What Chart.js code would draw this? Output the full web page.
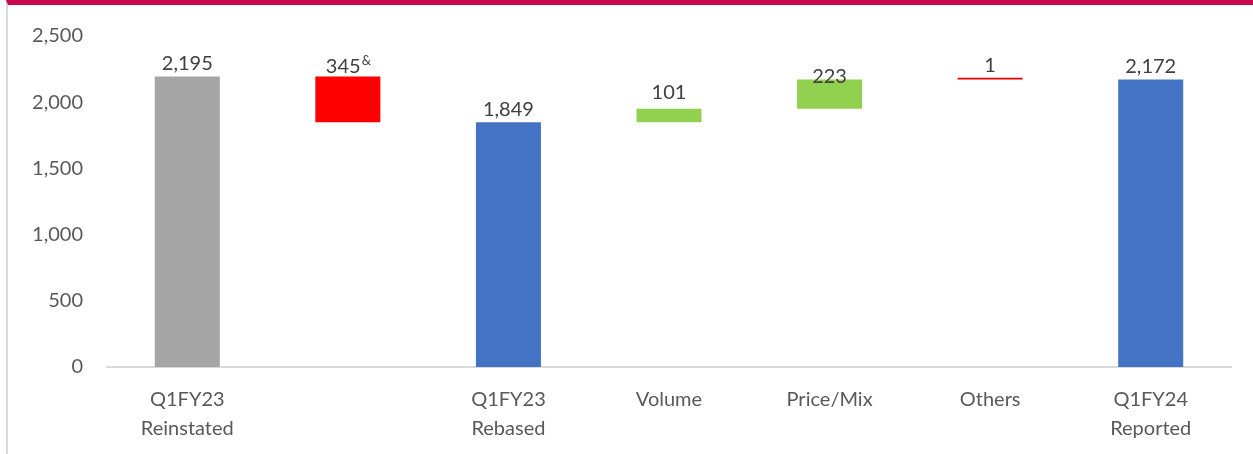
<!DOCTYPE html>
<html>
<head>
<meta charset="utf-8">
<script src="https://cdn.jsdelivr.net/npm/chart.js@4/dist/chart.umd.min.js"></script>
<style>
  body { margin: 0; background: #fff; }
  #wrap { position: relative; width: 1253px; height: 454px; overflow: hidden; }
  #frame {
    position: absolute; left: 6px; top: 0; right: 0; bottom: 0;
    border-top: 5px solid #c8074e; border-left: 2px solid #d9d9d9;
  }
  canvas { position: absolute; left: 0; top: 0; }
</style>
</head>
<body>
<div id="wrap">
  <div id="frame"></div>
  <canvas id="bridge" width="1253" height="454"></canvas>
</div>
<script>
const categories = [
  ["Q1FY23", "Reinstated"],
  "",
  ["Q1FY23", "Rebased"],
  "Volume",
  "Price/Mix",
  "Others",
  ["Q1FY24", "Reported"],
];
// floating bars: where each step starts and ends
const barStarts = [0, 1849, 0, 1849, 1950, 2172, 0];
const barEnds = [2195, 2195, 1849, 1950, 2172, 2173, 2172];
const valueLabels = ["2,195", "345", "1,849", "101", "223", "1", "2,172"];
const labelMarks = ["", "&", "", "", "", "", ""];
const yTicks = [0, 500, 1000, 1500, 2000, 2500];

const barColors = ["#a5a5a5", "#ff0000", "#4472c4", "#92d050", "#92d050", "#e00000", "#4472c4"];

const FONT = "Lato, 'Liberation Sans', sans-serif";

// draws the value above each bar (with the little superscript mark)
const valueLabelPlugin = {
  id: "valueLabels",
  afterDatasetsDraw(chart, args, opts) {
    const ctx = chart.ctx;
    const meta = chart.getDatasetMeta(0);
    ctx.save();
    ctx.fillStyle = "#404040";
    ctx.textBaseline = "alphabetic";
    meta.data.forEach((bar, i) => {
      const top = Math.min(bar.y, bar.base);
      const y = top - 6 + (opts.nudge[i] || 0);
      ctx.font = "20px " + FONT;
      const w = ctx.measureText(valueLabels[i]).width;
      let markW = 0;
      if (labelMarks[i]) {
        ctx.font = "13px " + FONT;
        markW = ctx.measureText(labelMarks[i]).width;
      }
      const x0 = bar.x - (w + markW) / 2;
      ctx.font = "20px " + FONT;
      ctx.textAlign = "left";
      ctx.fillText(valueLabels[i], x0, y);
      if (labelMarks[i]) {
        ctx.font = "13px " + FONT;
        ctx.fillText(labelMarks[i], x0 + w + 1, y - 8);
      }
    });
    ctx.restore();
  },
};

new Chart(document.getElementById("bridge"), {
  type: "bar",
  data: {
    labels: categories,
    datasets: [
      {
        data: barStarts.map((s, i) => [s, barEnds[i]]),
        backgroundColor: barColors,
        borderWidth: 0,
        categoryPercentage: 1,
        barPercentage: 0.405,
        minBarLength: 1.6,
      },
    ],
  },
  options: {
    responsive: false,
    animation: false,
    layout: { padding: { top: 34, right: 22, left: 0, bottom: 0 } },
    plugins: {
      legend: { display: false },
      tooltip: { enabled: false },
      valueLabels: { nudge: [0, 3, 0, -4, 10, 0, 0] },
    },
    scales: {
      x: {
        grid: { display: false, drawTicks: false },
        border: { color: "#d9d9d9", width: 2 },
        ticks: {
          color: "#595959",
          font: { family: FONT, size: 20, lineHeight: 1.45 },
          padding: 18,
          maxRotation: 0,
          autoSkip: false,
        },
        afterFit(scale) {
          scale.height = 87;
        },
      },
      y: {
        min: 0,
        max: 2500,
        grid: { display: false, drawTicks: false },
        border: { display: false },
        afterBuildTicks(scale) {
          scale.ticks = yTicks.map((v) => ({ value: v }));
        },
        ticks: {
          color: "#595959",
          font: { family: FONT, size: 20 },
          padding: 24,
          callback: (v) => v.toLocaleString("en-US"),
        },
        afterFit(scale) {
          scale.width = 107;
        },
      },
    },
  },
  plugins: [valueLabelPlugin],
});
</script>
</body>
</html>
